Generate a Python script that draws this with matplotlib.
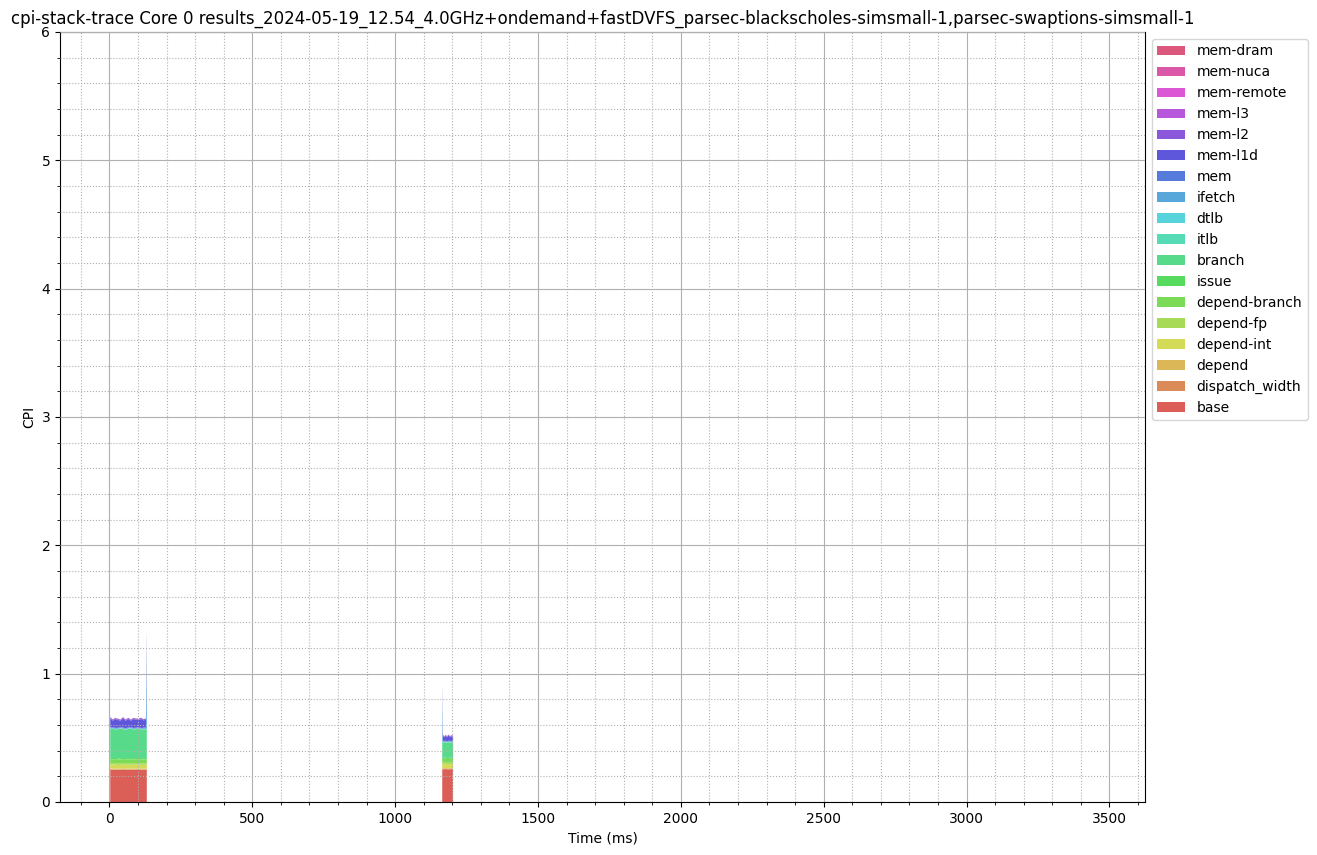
"""
CPI stack trace for core 0: stacked CPI components over time.
"""

import numpy as np
import matplotlib
matplotlib.use("Agg")
import matplotlib.pyplot as plt
import seaborn as sns

TITLE = ("cpi-stack-trace Core 0 results_2024-05-19_12.54_4.0GHz+ondemand+fastDVFS_"
         "parsec-blackscholes-simsmall-1,parsec-swaptions-simsmall-1")

# stack order, bottom -> top
LAYERS = ["base", "dispatch_width", "depend", "depend-int", "depend-fp",
          "depend-branch", "issue", "branch", "itlb", "dtlb", "ifetch", "mem",
          "mem-l1d", "mem-l2", "mem-l3", "mem-remote", "mem-nuca", "mem-dram"]

# ── block 1: blackscholes (ms) ────────────────────────────────────────────────
T1 = [3, 12, 21, 30, 39, 48, 57, 66, 75, 84, 93, 102, 111, 120, 128, 131]
b1_base     = [0.252, 0.250, 0.251, 0.249, 0.250, 0.252, 0.250, 0.249, 0.251, 0.250, 0.250, 0.252, 0.249, 0.250, 0.251, 0.250]
b1_dispatch = [0.004, 0.004, 0.004, 0.004, 0.004, 0.004, 0.004, 0.004, 0.004, 0.004, 0.004, 0.004, 0.004, 0.004, 0.004, 0.004]
b1_depend   = [0.006, 0.006, 0.006, 0.006, 0.006, 0.006, 0.006, 0.006, 0.006, 0.006, 0.006, 0.006, 0.006, 0.006, 0.006, 0.006]
b1_dep_int  = [0.030, 0.031, 0.030, 0.029, 0.030, 0.031, 0.030, 0.030, 0.029, 0.030, 0.031, 0.030, 0.030, 0.029, 0.030, 0.030]
b1_dep_fp   = [0.012, 0.012, 0.012, 0.012, 0.012, 0.012, 0.012, 0.012, 0.012, 0.012, 0.012, 0.012, 0.012, 0.012, 0.012, 0.012]
b1_dep_br   = [0.030, 0.029, 0.031, 0.030, 0.030, 0.029, 0.030, 0.031, 0.030, 0.030, 0.029, 0.030, 0.031, 0.030, 0.030, 0.030]
b1_issue    = [0.010, 0.010, 0.010, 0.010, 0.010, 0.010, 0.010, 0.010, 0.010, 0.010, 0.010, 0.010, 0.010, 0.010, 0.010, 0.010]
b1_branch   = [0.225, 0.228, 0.222, 0.226, 0.230, 0.224, 0.221, 0.227, 0.229, 0.223, 0.225, 0.228, 0.222, 0.226, 0.224, 0.220]
b1_itlb     = [0.002, 0.002, 0.002, 0.002, 0.002, 0.002, 0.002, 0.002, 0.002, 0.002, 0.002, 0.002, 0.002, 0.002, 0.002, 0.002]
b1_dtlb     = [0.002, 0.002, 0.002, 0.002, 0.002, 0.002, 0.002, 0.002, 0.002, 0.002, 0.002, 0.002, 0.002, 0.002, 0.002, 0.002]
b1_ifetch   = [0.006, 0.004, 0.004, 0.004, 0.004, 0.004, 0.004, 0.004, 0.004, 0.004, 0.004, 0.004, 0.004, 0.004, 0.006, 0.620]
b1_mem      = [0.004, 0.004, 0.004, 0.004, 0.004, 0.004, 0.004, 0.004, 0.004, 0.004, 0.004, 0.004, 0.004, 0.004, 0.004, 0.060]
b1_mem_l1d  = [0.070, 0.052, 0.068, 0.061, 0.049, 0.072, 0.058, 0.066, 0.050, 0.069, 0.063, 0.055, 0.071, 0.057, 0.060, 0.060]
b1_mem_l2   = [0.008, 0.008, 0.008, 0.008, 0.008, 0.008, 0.008, 0.008, 0.008, 0.008, 0.008, 0.008, 0.008, 0.008, 0.008, 0.008]
b1_mem_l3   = [0.001, 0.001, 0.001, 0.001, 0.001, 0.001, 0.001, 0.001, 0.001, 0.001, 0.001, 0.001, 0.001, 0.001, 0.001, 0.001]
b1_remote   = [0.000, 0.000, 0.000, 0.000, 0.000, 0.000, 0.000, 0.000, 0.000, 0.000, 0.000, 0.000, 0.000, 0.000, 0.000, 0.000]
b1_nuca     = [0.000, 0.000, 0.000, 0.000, 0.000, 0.000, 0.000, 0.000, 0.000, 0.000, 0.000, 0.000, 0.000, 0.000, 0.000, 0.000]
b1_dram     = [0.001, 0.001, 0.001, 0.001, 0.001, 0.001, 0.001, 0.001, 0.001, 0.001, 0.001, 0.001, 0.001, 0.001, 0.001, 0.030]

# ── block 2: swaptions (ms) ───────────────────────────────────────────────────
T2 = [1165, 1167, 1172, 1177, 1182, 1187, 1192, 1197, 1203]
b2_base     = [0.255, 0.254, 0.255, 0.256, 0.255, 0.254, 0.255, 0.256, 0.255]
b2_dispatch = [0.004, 0.004, 0.004, 0.004, 0.004, 0.004, 0.004, 0.004, 0.004]
b2_depend   = [0.005, 0.005, 0.005, 0.005, 0.005, 0.005, 0.005, 0.005, 0.005]
b2_dep_int  = [0.032, 0.032, 0.033, 0.032, 0.031, 0.032, 0.033, 0.032, 0.032]
b2_dep_fp   = [0.010, 0.010, 0.010, 0.010, 0.010, 0.010, 0.010, 0.010, 0.010]
b2_dep_br   = [0.030, 0.030, 0.030, 0.030, 0.030, 0.030, 0.030, 0.030, 0.030]
b2_issue    = [0.008, 0.008, 0.008, 0.008, 0.008, 0.008, 0.008, 0.008, 0.008]
b2_branch   = [0.120, 0.122, 0.118, 0.121, 0.119, 0.122, 0.120, 0.118, 0.121]
b2_itlb     = [0.002, 0.002, 0.002, 0.002, 0.002, 0.002, 0.002, 0.002, 0.002]
b2_dtlb     = [0.002, 0.002, 0.002, 0.002, 0.002, 0.002, 0.002, 0.002, 0.002]
b2_ifetch   = [0.380, 0.006, 0.004, 0.004, 0.004, 0.004, 0.004, 0.004, 0.004]
b2_mem      = [0.020, 0.004, 0.004, 0.004, 0.004, 0.004, 0.004, 0.004, 0.004]
b2_mem_l1d  = [0.035, 0.040, 0.028, 0.038, 0.030, 0.041, 0.029, 0.037, 0.033]
b2_mem_l2   = [0.006, 0.006, 0.006, 0.006, 0.006, 0.006, 0.006, 0.006, 0.006]
b2_mem_l3   = [0.001, 0.001, 0.001, 0.001, 0.001, 0.001, 0.001, 0.001, 0.001]
b2_remote   = [0.000, 0.000, 0.000, 0.000, 0.000, 0.000, 0.000, 0.000, 0.000]
b2_nuca     = [0.000, 0.000, 0.000, 0.000, 0.000, 0.000, 0.000, 0.000, 0.000]
b2_dram     = [0.010, 0.001, 0.001, 0.001, 0.001, 0.001, 0.001, 0.001, 0.001]

BLOCK1 = [b1_base, b1_dispatch, b1_depend, b1_dep_int, b1_dep_fp, b1_dep_br,
          b1_issue, b1_branch, b1_itlb, b1_dtlb, b1_ifetch, b1_mem, b1_mem_l1d,
          b1_mem_l2, b1_mem_l3, b1_remote, b1_nuca, b1_dram]
BLOCK2 = [b2_base, b2_dispatch, b2_depend, b2_dep_int, b2_dep_fp, b2_dep_br,
          b2_issue, b2_branch, b2_itlb, b2_dtlb, b2_ifetch, b2_mem, b2_mem_l1d,
          b2_mem_l2, b2_mem_l3, b2_remote, b2_nuca, b2_dram]

TRACE_END = 3452   # last sample of the trace (ms)

colors = sns.color_palette("hls", len(LAYERS))

fig, ax = plt.subplots(figsize=(13.17, 8.55), dpi=100)
fig.subplots_adjust(left=0.0456, right=0.8694, top=0.9626, bottom=0.062)


def closed(t, rows):
    # close each block with zero samples so the fill drops straight down
    t = np.concatenate([[t[0]], t, [t[-1]]])
    ys = [np.concatenate([[0.0], r, [0.0]]) for r in rows]
    return t, ys


handles = None
for t, rows in ((T1, BLOCK1), (T2, BLOCK2)):
    tt, ys = closed(np.asarray(t, float), [np.asarray(r, float) for r in rows])
    polys = ax.stackplot(tt, *ys, colors=colors, labels=LAYERS, linewidth=0)
    if handles is None:
        handles = polys

pad = 0.05 * TRACE_END
ax.set_xlim(-pad, TRACE_END + pad)
ax.set_ylim(0, 6)
ax.minorticks_on()
ax.grid(which="major", color="#b0b0b0", lw=0.8)
ax.grid(which="minor", color="#b0b0b0", lw=0.8, ls=":")
ax.set_axisbelow(False)

ax.set_xlabel("Time (ms)")
ax.set_ylabel("CPI")
ax.set_title(TITLE)

ax.legend(handles[::-1], LAYERS[::-1], loc="upper left",
          bbox_to_anchor=(1.0, 1.0))

plt.savefig("out.png", dpi=100)
plt.close(fig)
